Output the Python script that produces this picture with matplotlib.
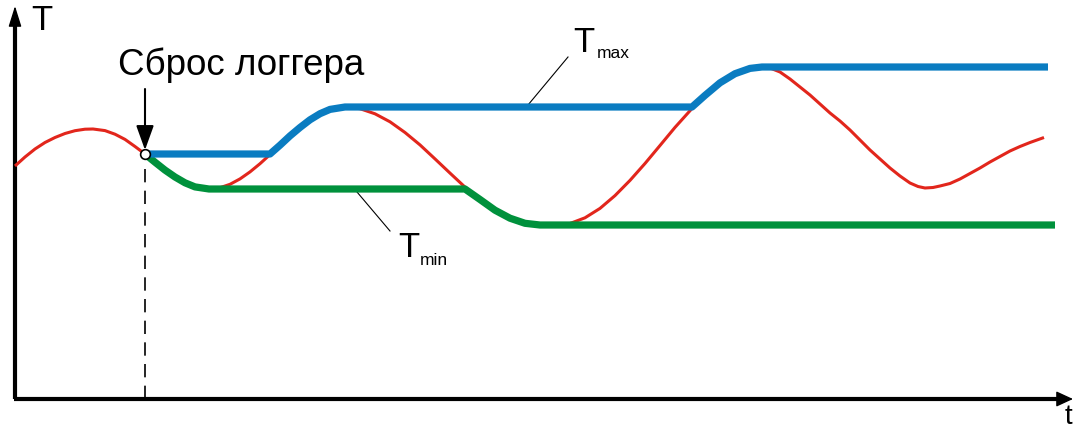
#!/usr/bin/env python
# -*- coding: utf-8 -*-

'''
Температура, Tmax и Tmin после сброса логгера.
'''

import matplotlib.pyplot as plt

plt.rcParams['font.family'] = ['Liberation Sans', 'DejaVu Sans']

# температура (красная кривая)
t_temp = [0, 10, 20, 30, 40, 50, 60, 70, 78, 90, 100, 110, 120, 130, 140,
          150, 160, 170, 180, 194, 205, 215, 225, 235, 245, 255, 265, 275,
          285, 295, 305, 315, 330, 345, 360, 375, 390, 405, 420, 435, 450,
          465, 480, 495, 510, 525, 542, 555, 570, 585, 600, 615, 630, 645,
          660, 677, 690, 705, 720, 735, 747, 755, 765, 775, 785, 795, 805,
          815, 825, 835, 845, 855, 865, 875, 885, 895, 903, 910, 918, 925,
          935, 945, 955, 965, 975, 985, 995, 1005, 1015, 1022, 1029]
temp = [233, 242, 250, 256.5, 261.5, 265.5, 268.3, 269.8, 270, 268.4,
        264.8, 259.6, 252.5, 245, 236.8, 228.9, 222, 216.2, 212.1, 210,
        211.3, 214.7, 220.1, 227.1, 235.3, 244.4, 253.8, 263.1, 271.5,
        279.2, 285.3, 289.6, 292, 290.3, 285.2, 277.2, 266.5, 254.1, 240.1,
        225.9, 211.9, 199.5, 188.8, 180.8, 175.7, 174, 174, 175.5, 181.2,
        190.6, 203.4, 218.6, 235.5, 253.5, 271.6, 290.5, 303.6, 316.2,
        325.3, 330.6, 332, 331, 327, 320, 312, 304, 295, 286, 278, 269,
        259, 249, 240, 231, 223, 216, 212.5, 211, 211.5, 213, 215.5, 220,
        225.5, 231, 237, 242.5, 248, 252.5, 256.5, 259, 261.5]

# максимум после сброса (синяя линия)
t_max = [130, 255, 265, 275, 285, 295, 305, 315, 330, 677, 690, 705, 720,
         735, 747, 1033]
temp_max = [245, 245, 253.8, 263.1, 271.5, 279.2, 285.3, 289.6, 292, 292,
            303.6, 316.2, 325.3, 330.6, 332, 332]

# минимум после сброса (зелёная линия)
t_min = [130, 140, 150, 160, 170, 180, 194, 450, 465, 480, 495, 510, 525,
         1040]
temp_min = [245, 236.8, 228.9, 222, 216.2, 212.1, 210, 210, 199.5, 188.8,
            180.8, 175.7, 174, 174]

# момент сброса
t_reset = 130
temp_reset = 245

cor_temp = '#e2261c'
cor_max = '#0a7cc1'
cor_min = '#00913c'

fig = plt.figure(figsize=(10.76, 4.31), dpi=100)
ax = fig.add_axes([0, 0, 1, 1])
ax.set_xlim(-15, 1061)
ax.set_ylim(-31, 400)
ax.axis('off')

# оси со стрелками
ax.plot([0, 0], [0, 382], color='black', lw=3, solid_capstyle='butt')
ax.plot([-1.5, 1048], [0, 0], color='black', lw=3, solid_capstyle='butt')
ax.annotate('', xy=(0, 393), xytext=(0, 378),
            arrowprops=dict(arrowstyle='-|>,head_length=0.8,head_width=0.25',
                            lw=1, color='black', shrinkA=0, shrinkB=0,
                            mutation_scale=16))
ax.annotate('', xy=(1058, 0), xytext=(1044, 0),
            arrowprops=dict(arrowstyle='-|>,head_length=0.65,head_width=0.3',
                            lw=1, color='black', shrinkA=0, shrinkB=0,
                            mutation_scale=16))
ax.text(16, 370, 'T', fontsize=25, ha='left', va='baseline')
ax.text(1053, -24, 't', fontsize=20, ha='center', va='baseline')

# кривые
ax.plot(t_temp, temp, color=cor_temp, lw=2.2, zorder=2,
        solid_capstyle='butt')
ax.plot(t_min, temp_min, color=cor_min, lw=5.2, zorder=3,
        solid_capstyle='butt', solid_joinstyle='round')
ax.plot(t_max, temp_max, color=cor_max, lw=5.2, zorder=3,
        solid_capstyle='butt', solid_joinstyle='round')

# сброс логгера
ax.plot([t_reset, t_reset], [0, temp_reset - 7], color='black', lw=1.2,
        dashes=(8, 5), zorder=2)
ax.plot([t_reset], [temp_reset], 'o', ms=7, mfc='white', mec='black',
        mew=1.2, zorder=5)
ax.annotate('', xy=(t_reset, temp_reset + 4), xytext=(t_reset, 310),
            arrowprops=dict(arrowstyle='-|>,head_length=1.0,head_width=0.36',
                            lw=1.5, color='black', shrinkA=0, shrinkB=0,
                            mutation_scale=15))
ax.text(103, 325, 'Сброс логгера', fontsize=26.5, ha='left', va='baseline')

# подписи Tmax и Tmin
ax.plot([513, 553], [294, 342], color='black', lw=0.8, zorder=1)
ax.text(558, 348, 'T', fontsize=25, ha='left', va='baseline')
ax.text(582, 342, 'max', fontsize=12.5, ha='left', va='baseline')
ax.plot([342, 375], [207, 168], color='black', lw=0.8, zorder=1)
ax.text(383, 143, 'T', fontsize=25, ha='left', va='baseline')
ax.text(405, 135, 'min', fontsize=12.5, ha='left', va='baseline')

fig.savefig('out.png', dpi=100)
